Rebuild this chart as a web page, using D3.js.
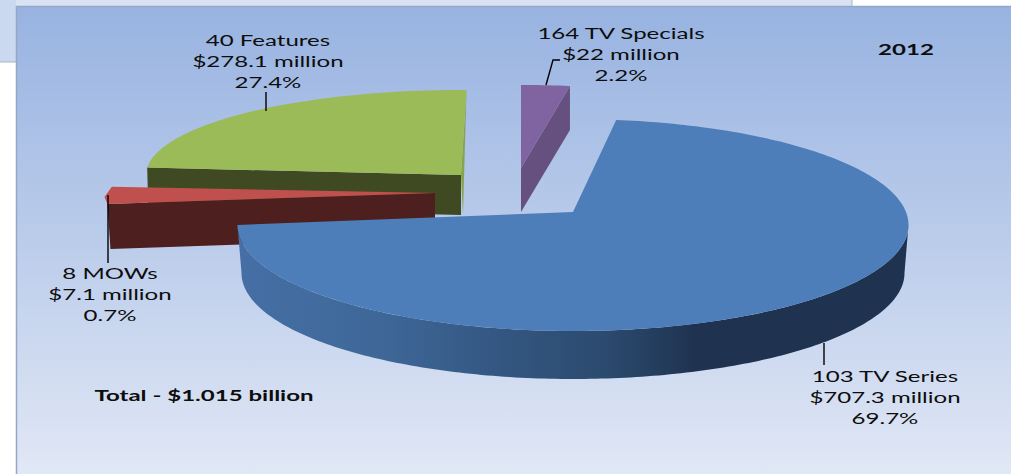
<!DOCTYPE html>
<html><head><meta charset="utf-8">
<script src="https://cdn.jsdelivr.net/npm/d3@7"></script>
<style>html,body{margin:0;padding:0;background:#fff;overflow:hidden}svg{display:block}</style>
</head><body><svg id="c" width="1011" height="474"></svg>
<script>
// ---- data
const categories = ["TV Series", "MOWs", "Features", "TV Specials"];
const counts = [103, 8, 40, 164];
const amounts = [707.3, 7.1, 278.1, 22];
const amountLabels = ["$707.3 million", "$7.1 million", "$278.1 million", "$22 million"];
const percents = ["69.7%", "0.7%", "27.4%", "2.2%"];
const yearLabel = "2012";
const totalLabel = "Total - $1.015 billion";

// ---- drawing layout: the exploded 3-D slices
const rad = Math.PI / 180;
const layout = [
  {top:"#4d7eb9", apex:[573,212], c:[573,225], rx:335.5, ry:106, depth:48, view:[7.4,270]},
  {top:"#c0504d", wall:"#4d1f1e", apex:[435,193], c:[435,193], rx:330, ry:90, depth:45, view:[263,274]},
  {top:"#9bbb59", wall:"#404a22", side:"#87a34c", apex:[461,175], c:[461,175], rx:315, ry:85, depth:40, view:[275,361]},
  {top:"#8064a2", wall:"#66507f", apex:[521,168], c:[521,168], rx:335, ry:83, depth:44, view:[360,368.4]}
];
const labelPos = [
  {x:885, y:382, leader:[[824,343],[824,365]]},
  {x:110, y:279, leader:[[108,195],[108,263]]},
  {x:268, y:46,  leader:[[266,92],[266,111]]},
  {x:621, y:39,  leader:[[546,85],[553,60],[560,60]]}
];
const lineGap = 21, fontSize = 15.5, stretch = 1.55;
const fontFamily = "Lato, 'Open Sans', sans-serif";

const svg = d3.select("#c");
const defs = svg.append("defs");
const bg = defs.append("linearGradient").attr("id","bg").attr("x1",0).attr("y1",0).attr("x2",0).attr("y2",1);
[[0,"#98b3e1"],[0.5,"#bccdeb"],[1,"#e3e9f6"]].forEach(s=>bg.append("stop").attr("offset",s[0]).attr("stop-color",s[1]));
const wg = defs.append("linearGradient").attr("id","wall").attr("gradientUnits","userSpaceOnUse")
  .attr("x1",240).attr("y1",0).attr("x2",909).attr("y2",0);
[[0,"#456fa5"],[0.2,"#3f6899"],[0.4,"#335680"],[0.55,"#2b4a6e"],[0.68,"#1f3350"],[1,"#1f3350"]]
  .forEach(s=>wg.append("stop").attr("offset",s[0]).attr("stop-color",s[1]));

// window behind the chart
svg.append("rect").attr("x",0).attr("y",0).attr("width",852).attr("height",6).attr("fill","#d9e2f3");
svg.append("rect").attr("x",0).attr("y",0).attr("width",16).attr("height",62).attr("fill","#cbd9f0");
svg.append("line").attr("x1",0).attr("x2",16).attr("y1",62).attr("y2",62).attr("stroke","#a9b4c6");
svg.append("line").attr("x1",852).attr("x2",852).attr("y1",0).attr("y2",6).attr("stroke","#a9b4c6");
svg.append("rect").attr("x",16.5).attr("y",6.5).attr("width",1011).attr("height",480)
  .attr("fill","url(#bg)").attr("stroke","#95a6c6").attr("stroke-width",1.5);

const pie = d3.pie().value(d=>d).sort(null);
const arcs = pie(amounts);
const pt = (c,rx,ry,deg)=>[c[0]+rx*Math.sin(deg*rad), c[1]-ry*Math.cos(deg*rad)];
const sweep = (c,rx,ry,a,b)=>{ // sampled elliptical sweep, degrees
  const n = Math.max(2,Math.ceil(Math.abs(b-a)));
  return d3.range(n+1).map(i=>pt(c,rx,ry,a+(b-a)*i/n));
};
const line = d3.line();
const g = svg.append("g");

function topFace(L,a0,a1){ return line([L.apex,...sweep(L.c,L.rx,L.ry,a0,a1)])+"Z"; }

// slices drawn back to front: Features, MOWs, TV Series, TV Specials
[2,1,0,3].forEach(i=>{
  const L = layout[i], d = arcs[i];
  const ang = d3.scaleLinear().domain([d.startAngle,d.endAngle]).range(L.view);
  const a0 = ang(d.startAngle), a1 = ang(d.endAngle), D = L.depth;
  const s = pt(L.c,L.rx,L.ry,a0), e = pt(L.c,L.rx,L.ry,a1);
  const dn = p=>[p[0],p[1]+D];
  if(i===0){
    const cb=[L.c[0],L.c[1]+D];
    const wall=[...sweep(L.c,L.rx,L.ry,90,270),...sweep(cb,L.rx-4,L.ry,270,90)];
    g.append("path").attr("d",line(wall)+"Z").attr("fill","url(#wall)");
  } else if(i===1){
    g.append("path").attr("d",line([s,L.apex,dn(L.apex),[s[0]+3,s[1]+D]])+"Z").attr("fill",L.wall);
    g.append("path").attr("d",line([L.apex,s,[s[0]-3,s[1]-7],[e[0]+6,e[1]]])+"Z").attr("fill",L.top);
  } else if(i===2){
    g.append("path").attr("d",line([s,L.apex,dn(L.apex),[s[0]+1,s[1]+D]])+"Z").attr("fill",L.wall);
    g.append("path").attr("d",line([e,[e[0]-1,e[1]+35],[L.apex[0]+2,L.apex[1]+D],L.apex])+"Z").attr("fill",L.side);
  } else if(i===3){
    g.append("path").attr("d",line([e,dn(e),dn(L.apex),L.apex])+"Z").attr("fill",L.wall);
  }
  if(i!==1) g.append("path").attr("d",topFace(L,a0,a1)).attr("fill",L.top);
});

// leaders
labelPos.forEach(p=>{
  svg.append("path").attr("d",line(p.leader)).attr("fill","none").attr("stroke","#000").attr("stroke-width",1.4);
});

// labels
function put(str,x,y,anchor,weight){
  const t = svg.append("text").attr("x",x).attr("y",y).attr("text-anchor",anchor)
    .attr("font-family",fontFamily).attr("font-size",fontSize).attr("font-weight",weight||400)
    .attr("fill","#0d0d0d").text(str);
  const w = t.node().getComputedTextLength();
  t.attr("textLength",w*stretch).attr("lengthAdjust","spacingAndGlyphs");
}
categories.forEach((c,i)=>{
  const p = labelPos[i];
  [counts[i]+" "+c, amountLabels[i], percents[i]].forEach((s,k)=>put(s,p.x,p.y+k*lineGap,"middle"));
});
put(yearLabel,906,55,"middle",700);
put(totalLabel,204,401,"middle",700);
</script></body></html>
